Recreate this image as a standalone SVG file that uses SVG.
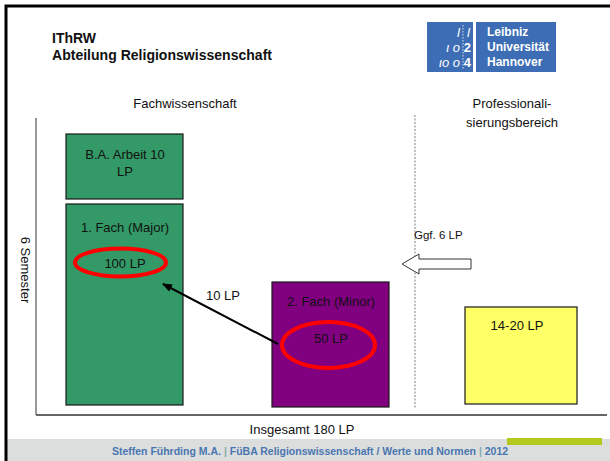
<svg xmlns="http://www.w3.org/2000/svg" width="610" height="461" viewBox="0 0 610 461">
<style>
text{font-family:"Liberation Sans",Arial,sans-serif;fill:#111}
.lbl{font-size:13px;text-anchor:middle}
.box{stroke:#1a1a1a;stroke-width:1.2}
.ring{fill:none;stroke:#ff0000;stroke-width:4}
.logo{fill:#fff;font-size:12px;font-weight:bold}
.digit{fill:#fff;font-size:13px;font-style:italic;text-anchor:end}
</style>
<defs>
<marker id="ah" markerWidth="10" markerHeight="8" refX="9" refY="4" orient="auto" markerUnits="userSpaceOnUse">
<path d="M0,0 L10,4 L0,8 Z" fill="#000"/>
</marker>
</defs>
<rect width="610" height="461" fill="#fff"/>
<!-- footer -->
<rect x="7" y="439" width="603" height="22" fill="#dcdedd"/>
<rect x="507" y="438" width="95" height="7" fill="#b5c81e"/>
<text x="310" y="455" text-anchor="middle" style="font-size:10.5px;font-weight:bold;fill:#4a76b0">Steffen Führding M.A. <tspan fill="#8aa">|</tspan> FüBA Religionswissenschaft / Werte und Normen <tspan fill="#8aa">|</tspan> 2012</text>
<!-- frame -->
<path d="M6,461 V6 H610" fill="none" stroke="#000" stroke-width="3"/>
<!-- header -->
<text x="52" y="43" style="font-size:14.5px;font-weight:bold" textLength="44" lengthAdjust="spacingAndGlyphs">IThRW</text>
<text x="52" y="60" style="font-size:14.5px;font-weight:bold" textLength="220" lengthAdjust="spacingAndGlyphs">Abteilung Religionswissenschaft</text>
<g id="logo">
<rect x="427" y="22" width="46" height="50" fill="#3d6db4"/>
<rect x="476" y="22" width="80" height="50" fill="#3d6db4"/>
<line x1="463" y1="25" x2="463" y2="70" stroke="#fff" stroke-width="0.8" stroke-dasharray="1.5 1.5"/>
<text class="digit" x="460" y="37">l</text>
<text class="digit" x="470" y="37">l</text>
<text class="digit" x="460" y="52">ι o</text>
<text class="digit" x="471" y="52" style="font-style:normal;font-weight:bold">2</text>
<text class="digit" x="460" y="67">ιo o</text>
<text class="digit" x="471" y="67" style="font-style:normal;font-weight:bold">4</text>
<text class="logo" x="487" y="36">Leibniz</text>
<text class="logo" x="487" y="51">Universität</text>
<text class="logo" x="487" y="66">Hannover</text>
</g>
<!-- section headings -->
<text class="lbl" x="185" y="108">Fachwissenschaft</text>
<text class="lbl" x="512" y="108">Professionali-</text>
<text class="lbl" x="512" y="127">sierungsbereich</text>
<!-- axes -->
<g id="axes">
<line x1="36" y1="118" x2="36" y2="415" stroke="#555" stroke-width="1.2"/>
<line x1="36" y1="415" x2="607" y2="415" stroke="#666" stroke-width="2"/>
<line x1="415" y1="115" x2="415" y2="408" stroke="#aaa" stroke-width="1.5" stroke-dasharray="2 1.5"/>
<text class="lbl" transform="translate(25,270) rotate(90)" dominant-baseline="central">6 Semester</text>
<text class="lbl" x="302" y="434">Insgesamt 180 LP</text>
</g>
<g id="ba">
<rect class="box" x="66" y="134" width="117" height="65" fill="#339966"/>
<text class="lbl" x="125" y="159">B.A. Arbeit 10</text>
<text class="lbl" x="125" y="176">LP</text>
</g>
<g id="major">
<rect class="box" x="66" y="204" width="117" height="201" fill="#339966"/>
<text class="lbl" x="125" y="232">1. Fach (Major)</text>
<ellipse class="ring" cx="120.5" cy="262.5" rx="45.5" ry="14"/>
<text class="lbl" x="125" y="268">100 LP</text>
</g>
<g id="minor">
<rect class="box" x="272" y="282" width="117" height="125" fill="#800080"/>
<text class="lbl" x="331" y="306">2. Fach (Minor)</text>
<ellipse class="ring" cx="328.5" cy="345" rx="46.5" ry="23"/>
<text class="lbl" x="331" y="343">50 LP</text>
</g>
<g id="prof">
<rect class="box" x="465" y="307" width="112" height="97" fill="#ffff66"/>
<text class="lbl" x="517" y="330">14-20 LP</text>
</g>
<g id="connectors">
<line x1="278" y1="344" x2="163" y2="284" stroke="#000" stroke-width="2" marker-end="url(#ah)"/>
<text class="lbl" x="223" y="300">10 LP</text>
<path d="M402,264 L419,254 L419,259 L471,259 L471,269 L419,269 L419,274 Z" fill="#fff" stroke="#333" stroke-width="1"/>
<text x="414" y="239" style="font-size:11.5px">Ggf. 6 LP</text>
</g>
</svg>
